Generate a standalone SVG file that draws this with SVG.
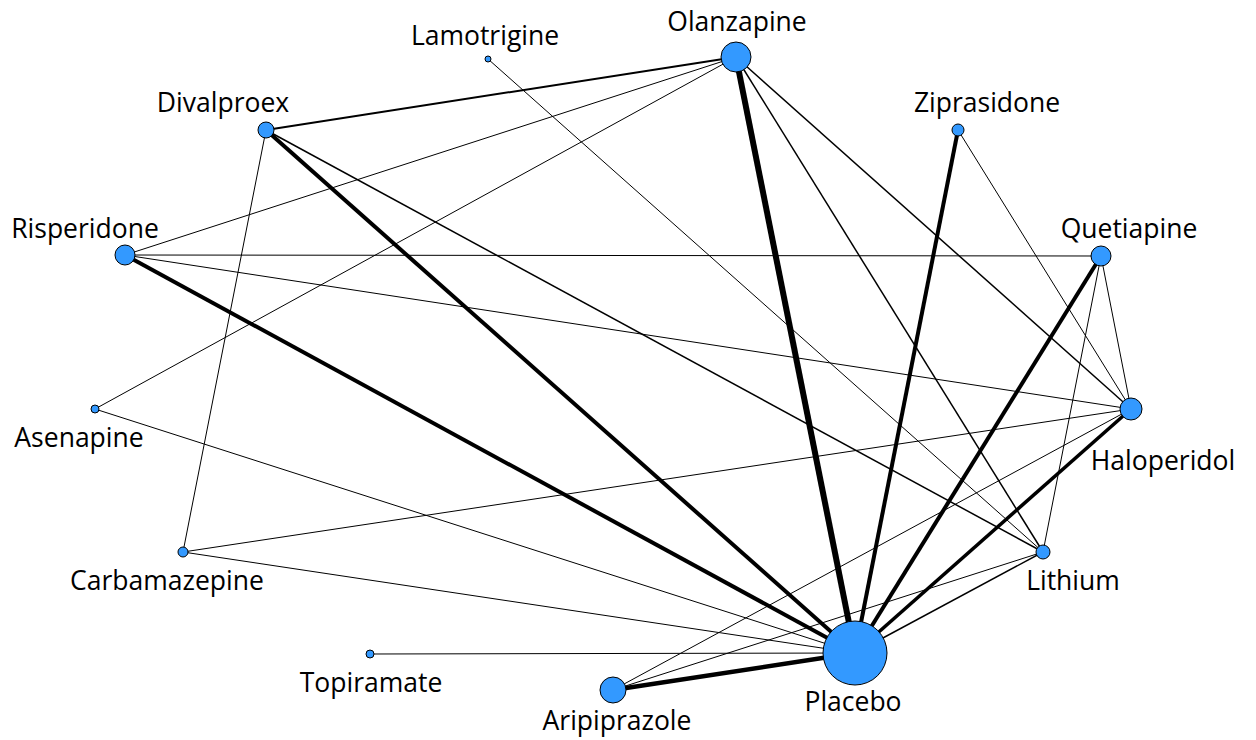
<svg xmlns="http://www.w3.org/2000/svg" width="1256" height="740" viewBox="0 0 1256 740">
<style>
.e{stroke:#000;fill:none;stroke-linecap:butt}
.n circle{fill:#3399ff;stroke:#000;stroke-width:1}
.n text{font-family:"Open Sans","Liberation Sans",sans-serif;font-size:26.5px;fill:#000;text-anchor:middle}
</style>
<rect width="1256" height="740" fill="#fff"/>
<g id="connectors">
<line class="e" x1="736" y1="57" x2="266" y2="130" stroke-width="2"/>
<line class="e" x1="736" y1="57" x2="125" y2="255" stroke-width="1"/>
<line class="e" x1="736" y1="57" x2="95" y2="409" stroke-width="1"/>
<line class="e" x1="736" y1="57" x2="855" y2="653" stroke-width="6"/>
<line class="e" x1="736" y1="57" x2="1043" y2="552" stroke-width="1.5"/>
<line class="e" x1="736" y1="57" x2="1131" y2="409" stroke-width="1.5"/>
<line class="e" x1="488" y1="59" x2="1043" y2="552" stroke-width="1"/>
<line class="e" x1="266" y1="130" x2="855" y2="653" stroke-width="4"/>
<line class="e" x1="266" y1="130" x2="1043" y2="552" stroke-width="1.5"/>
<line class="e" x1="266" y1="130" x2="183" y2="552" stroke-width="1"/>
<line class="e" x1="958" y1="130" x2="855" y2="653" stroke-width="4"/>
<line class="e" x1="958" y1="130" x2="1131" y2="409" stroke-width="1"/>
<line class="e" x1="125" y1="255" x2="1101" y2="256" stroke-width="1"/>
<line class="e" x1="125" y1="255" x2="1131" y2="409" stroke-width="1"/>
<line class="e" x1="125" y1="255" x2="855" y2="653" stroke-width="4"/>
<line class="e" x1="1101" y1="256" x2="855" y2="653" stroke-width="4"/>
<line class="e" x1="1101" y1="256" x2="1131" y2="409" stroke-width="1"/>
<line class="e" x1="1101" y1="256" x2="1043" y2="552" stroke-width="1"/>
<line class="e" x1="95" y1="409" x2="855" y2="653" stroke-width="1"/>
<line class="e" x1="1131" y1="409" x2="855" y2="653" stroke-width="3.5"/>
<line class="e" x1="1131" y1="409" x2="183" y2="552" stroke-width="1"/>
<line class="e" x1="1131" y1="409" x2="613" y2="690" stroke-width="1"/>
<line class="e" x1="183" y1="552" x2="855" y2="653" stroke-width="1"/>
<line class="e" x1="1043" y1="552" x2="855" y2="653" stroke-width="1.5"/>
<line class="e" x1="1043" y1="552" x2="613" y2="690" stroke-width="1"/>
<line class="e" x1="370" y1="654" x2="855" y2="653" stroke-width="1"/>
<line class="e" x1="613" y1="690" x2="855" y2="653" stroke-width="4.5"/>
</g>
<g id="olanzapine" class="n"><circle cx="736" cy="57" r="15"/><text x="737" y="31">Olanzapine</text></g>
<g id="lamotrigine" class="n"><circle cx="488" cy="59" r="3"/><text x="485" y="45">Lamotrigine</text></g>
<g id="divalproex" class="n"><circle cx="266" cy="130" r="8"/><text x="223" y="112">Divalproex</text></g>
<g id="ziprasidone" class="n"><circle cx="958" cy="130" r="6"/><text x="987" y="112">Ziprasidone</text></g>
<g id="risperidone" class="n"><circle cx="125" cy="255" r="10"/><text x="85" y="238">Risperidone</text></g>
<g id="quetiapine" class="n"><circle cx="1101" cy="256" r="10"/><text x="1129" y="238">Quetiapine</text></g>
<g id="asenapine" class="n"><circle cx="95" cy="409" r="4"/><text x="79" y="447">Asenapine</text></g>
<g id="haloperidol" class="n"><circle cx="1131" cy="409" r="11"/><text x="1163" y="470">Haloperidol</text></g>
<g id="carbamazepine" class="n"><circle cx="183" cy="552" r="5"/><text x="167" y="590">Carbamazepine</text></g>
<g id="lithium" class="n"><circle cx="1043" cy="552" r="7"/><text x="1073" y="590">Lithium</text></g>
<g id="topiramate" class="n"><circle cx="370" cy="654" r="4"/><text x="371" y="692">Topiramate</text></g>
<g id="aripiprazole" class="n"><circle cx="613" cy="690" r="13"/><text x="617" y="730">Aripiprazole</text></g>
<g id="placebo" class="n"><circle cx="855" cy="653" r="32"/><text x="853" y="711">Placebo</text></g>
</svg>
